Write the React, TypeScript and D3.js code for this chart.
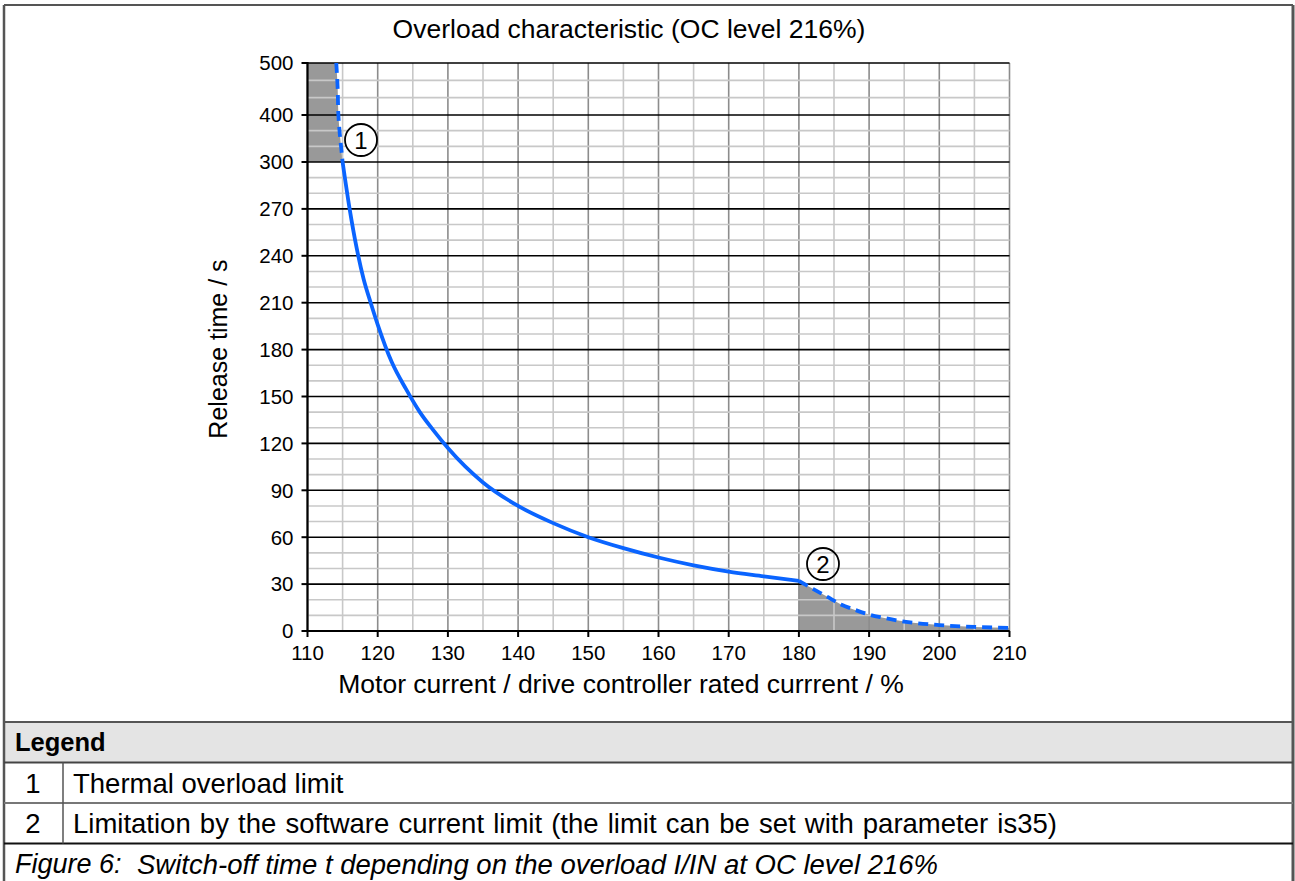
import React from "react";
import * as d3 from "d3";

// ---- data ----
const solidCurrent = [115, 116, 117, 118, 119, 120, 122, 124, 126, 128, 130, 135, 140, 145, 150, 155, 160, 165, 170, 175, 180];
const solidTime = [300, 270, 245, 225, 210, 196, 172, 155, 140, 128, 117, 95, 80, 69, 60, 53, 47, 42, 38, 35, 32];
const limit1Current = [114.1, 114.3, 114.4, 114.6, 114.8, 115];
const limit1Time = [500, 450, 400, 360, 330, 300];
const limit2Current = [180, 182, 184, 186, 188, 190, 192, 195, 200, 205, 210];
const limit2Time = [32, 27, 22, 17, 13.5, 10.5, 8.5, 6, 3.8, 2.6, 2];
const xTicks = [110, 120, 130, 140, 150, 160, 170, 180, 190, 200, 210];
const yTicks = [0, 30, 60, 90, 120, 150, 180, 210, 240, 270, 300, 400, 500];
const legendRows = [
  { num: "1", text: "Thermal overload limit" },
  { num: "2", text: "Limitation by the software current limit (the limit can be set with parameter is35)" },
];
const chartTitle = "Overload characteristic (OC level 216%)";
const xTitle = "Motor current / drive controller rated currrent / %";
const yTitle = "Release time / s";
const captionLabel = "Figure 6:";
const captionText = "Switch-off time t depending on the overload I/IN at OC level 216%";

const FONT = "'Liberation Sans', Arial, sans-serif";
const BLUE = "#0a64ff";

export default function App() {
  const x = d3.scaleLinear().domain([110, 210]).range([307.5, 1009.5]);
  const y = d3.scaleLinear().domain([0, 300, 400, 500]).range([631, 162, 115, 63]);

  const solid = solidCurrent.map((c, i) => ({ c, t: solidTime[i] }));
  const lim1 = limit1Current.map((c, i) => ({ c, t: limit1Time[i] }));
  const lim2 = limit2Current.map((c, i) => ({ c, t: limit2Time[i] }));

  const line = d3
    .line<{ c: number; t: number }>()
    .x((d) => x(d.c))
    .y((d) => y(d.t))
    .curve(d3.curveMonotoneX);
  const lineY = d3
    .line<{ c: number; t: number }>()
    .x((d) => x(d.c))
    .y((d) => y(d.t))
    .curve(d3.curveMonotoneY);

  const area1 = d3
    .area<{ c: number; t: number }>()
    .y((d) => y(d.t))
    .x0(() => x(110))
    .x1((d) => x(d.c))
    .curve(d3.curveMonotoneY);
  const area2 = d3
    .area<{ c: number; t: number }>()
    .x((d) => x(d.c))
    .y0(() => y(0))
    .y1((d) => y(d.t))
    .curve(d3.curveMonotoneX);

  // minor horizontal grid: thirds between major ticks
  const minorY: number[] = [];
  for (let i = 0; i < yTicks.length - 1; i++) {
    const a = yTicks[i];
    const b = yTicks[i + 1];
    minorY.push(a + (b - a) / 3, a + (2 * (b - a)) / 3);
  }
  const vLines = d3.range(110, 211, 5);

  const top = y(500);
  const bottom = y(0);

  const rowTop = 722;
  const rowH = 40.5;

  return (
    <svg
      width={1295}
      height={881}
      style={{ position: "absolute", left: 0, top: 0, background: "#fff" }}
      fontFamily={FONT}
    >
      <rect x={0} y={0} width={1295} height={881} fill="#fff" />
      {/* gray regions */}
      <path d={area1(lim1) || ""} fill="#999" />
      <path d={area2(lim2) || ""} fill="#999" />

      {/* vertical grid */}
      {vLines.map((v) => (
        <line
          key={"v" + v}
          x1={x(v)}
          x2={x(v)}
          y1={top}
          y2={bottom}
          stroke={v % 10 === 0 ? "#8c8c8c" : "#c8c8c8"}
          strokeWidth={1.6}
        />
      ))}
      {/* minor horizontal grid */}
      {minorY.map((v, i) => (
        <line key={"m" + i} x1={x(110)} x2={x(210)} y1={y(v)} y2={y(v)} stroke="#c8c8c8" strokeWidth={1.6} />
      ))}
      {/* major horizontal grid */}
      {yTicks.map((v) => (
        <line key={"h" + v} x1={x(110)} x2={x(210)} y1={y(v)} y2={y(v)} stroke="#000" strokeWidth={1.6} />
      ))}

      {/* axes */}
      <line x1={x(110)} x2={x(110)} y1={top - 1} y2={bottom + 1} stroke="#000" strokeWidth={2.2} />
      <line x1={x(110) - 1} x2={x(210)} y1={bottom} y2={bottom} stroke="#000" strokeWidth={2.2} />
      {yTicks.map((v) => (
        <g key={"yt" + v}>
          <line x1={x(110) - 6} x2={x(110)} y1={y(v)} y2={y(v)} stroke="#000" strokeWidth={2} />
          <text x={x(110) - 14} y={y(v)} dy="0.36em" textAnchor="end" fontSize={20.5} fill="#000">
            {v}
          </text>
        </g>
      ))}
      {xTicks.map((v) => (
        <g key={"xt" + v}>
          <line x1={x(v)} x2={x(v)} y1={bottom} y2={bottom + 6} stroke="#000" strokeWidth={2} />
          <text x={x(v)} y={bottom + 29} textAnchor="middle" fontSize={20.5} fill="#000">
            {v}
          </text>
        </g>
      ))}

      {/* curves */}
      <path d={line(solid) || ""} fill="none" stroke={BLUE} strokeWidth={3.8} />
      <path d={lineY(lim1) || ""} fill="none" stroke={BLUE} strokeWidth={3.8} strokeDasharray="10 6" />
      <path d={line(lim2) || ""} fill="none" stroke={BLUE} strokeWidth={3.8} strokeDasharray="10 6" />

      {/* markers */}
      <circle cx={361} cy={140} r={16} fill="#fff" stroke="#000" strokeWidth={1.8} />
      <text x={361} y={140} dy="0.36em" textAnchor="middle" fontSize={24} fill="#000">1</text>
      <circle cx={823} cy={564} r={16} fill="none" stroke="#000" strokeWidth={1.8} />
      <text x={823} y={564} dy="0.36em" textAnchor="middle" fontSize={24} fill="#000">2</text>

      {/* titles */}
      <text x={629} y={38} textAnchor="middle" fontSize={26.5} fill="#000">{chartTitle}</text>
      <text x={621} y={693} textAnchor="middle" fontSize={26.5} fill="#000">{xTitle}</text>
      <text transform="translate(227,349) rotate(-90)" textAnchor="middle" fontSize={25} fill="#000">{yTitle}</text>

      {/* legend table */}
      <rect x={4} y={rowTop} width={1289} height={rowH} fill="#e4e4e4" />
      <line x1={4} x2={1293} y1={5} y2={5} stroke="#555" strokeWidth={2} />
      <line x1={4} x2={4} y1={5} y2={881} stroke="#555" strokeWidth={2.5} />
      <line x1={1293} x2={1293} y1={5} y2={881} stroke="#555" strokeWidth={3} />
      <line x1={4} x2={1293} y1={rowTop} y2={rowTop} stroke="#555" strokeWidth={2} />
      <line x1={4} x2={1293} y1={rowTop + rowH} y2={rowTop + rowH} stroke="#444" strokeWidth={2} />
      <line x1={4} x2={1293} y1={rowTop + 2 * rowH} y2={rowTop + 2 * rowH} stroke="#777" strokeWidth={1.8} />
      <line x1={4} x2={1293} y1={rowTop + 3 * rowH} y2={rowTop + 3 * rowH} stroke="#111" strokeWidth={1.8} />
      <line x1={63} x2={63} y1={rowTop + rowH} y2={rowTop + 3 * rowH} stroke="#555" strokeWidth={1.5} />
      <text x={15} y={rowTop + rowH / 2} dy="0.36em" fontSize={25.5} fontWeight="bold" fill="#000">Legend</text>
      {legendRows.map((r, i) => (
        <g key={r.num}>
          <text x={33} y={rowTop + (i + 1.5) * rowH} dy="0.36em" textAnchor="middle" fontSize={27.5} fill="#000">{r.num}</text>
          <text x={73} y={rowTop + (i + 1.5) * rowH} dy="0.36em" fontSize={27.5} wordSpacing={i === 1 ? 1.5 : 0} fill="#000">{r.text}</text>
        </g>
      ))}
      <text x={15} y={rowTop + 3.5 * rowH} dy="0.36em" fontSize={27} fontStyle="italic" fill="#000">{captionLabel}</text>
      <text x={137} y={rowTop + 3.5 * rowH} dy="0.36em" fontSize={27.5} fontStyle="italic" fill="#000">{captionText}</text>
    </svg>
  );
}
